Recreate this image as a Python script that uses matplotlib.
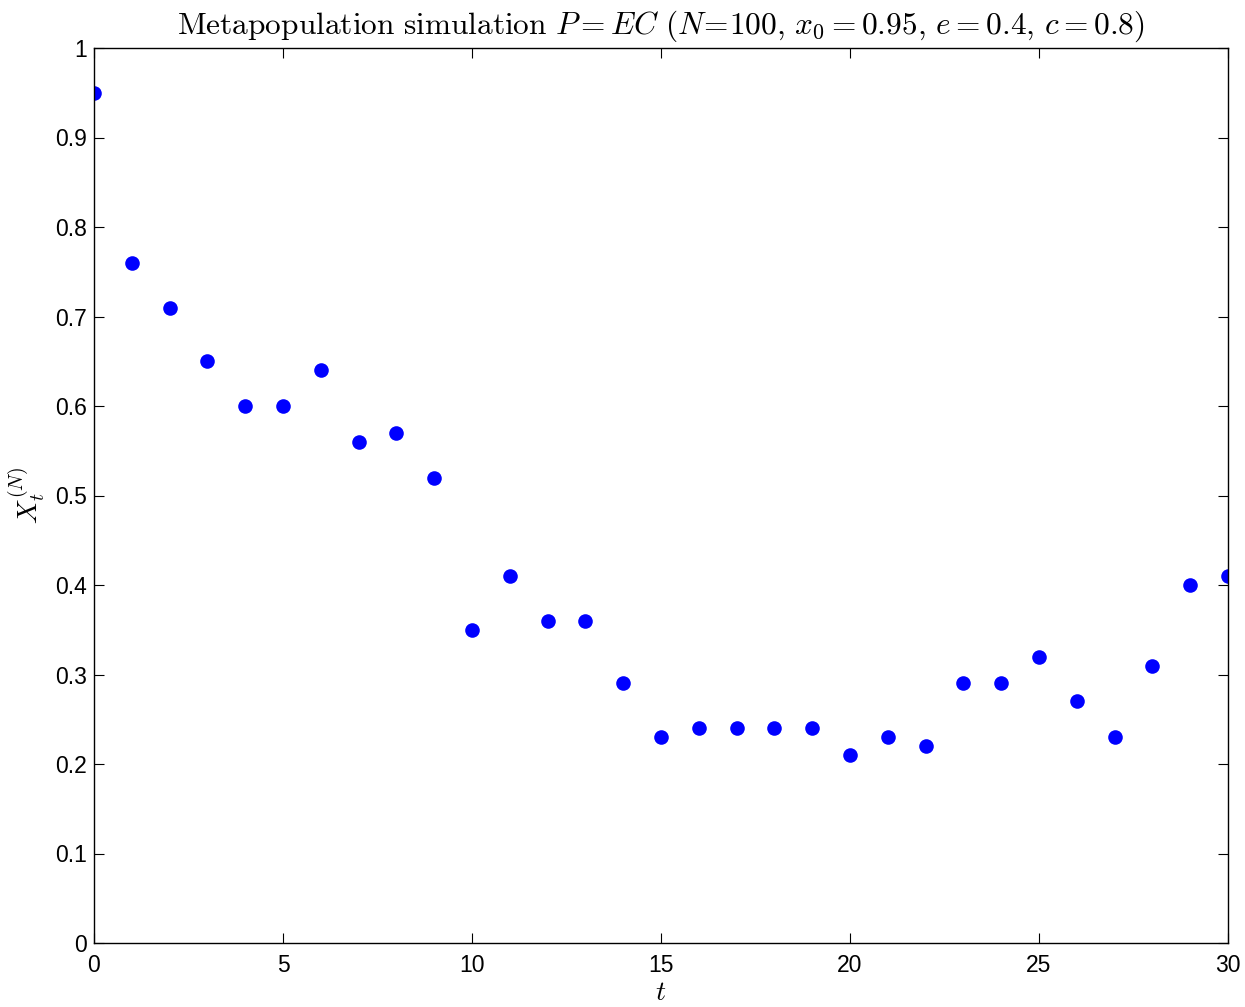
import matplotlib
matplotlib.use("Agg")
import matplotlib.pyplot as plt

t = list(range(31))
x = [0.95, 0.76, 0.71, 0.65, 0.60, 0.60, 0.64, 0.56, 0.57, 0.52,
     0.35, 0.41, 0.36, 0.36, 0.29, 0.23, 0.24, 0.24, 0.24, 0.24,
     0.21, 0.23, 0.22, 0.29, 0.29, 0.32, 0.27, 0.23, 0.31, 0.40, 0.41]
xticks = [0, 5, 10, 15, 20, 25, 30]
yticks = [0, 0.1, 0.2, 0.3, 0.4, 0.5, 0.6, 0.7, 0.8, 0.9, 1]
yticklabels = ["0", "0.1", "0.2", "0.3", "0.4", "0.5", "0.6", "0.7", "0.8", "0.9", "1"]

plt.rcParams['mathtext.fontset'] = 'cm'
plt.rcParams['font.family'] = ['Liberation Sans', 'DejaVu Sans']

fig = plt.figure(figsize=(12.45, 10.07), dpi=100)
ax = fig.add_axes([94/1245, 64/1007, (1228-94)/1245, (943-48)/1007])
ax.plot(t, x, 'o', color=(0, 0, 1), markersize=10.5, markeredgewidth=0)
ax.set_xlim(0, 30)
ax.set_ylim(0, 1)
ax.set_xticks(xticks)
ax.set_xticklabels([str(v) for v in xticks])
ax.set_yticks(yticks)
ax.set_yticklabels(yticklabels)
ax.tick_params(direction='in', top=True, right=True, labelsize=16.5, length=7, width=0.8, pad=5)
ax.tick_params(axis='x', pad=8)
for s in ax.spines.values():
    s.set_linewidth(1.0)
ax.set_title(r'$\mathrm{Metapopulation\ simulation}\ P = EC\ (N\!=\!100,\, x_0 = 0.95,\, e = 0.4,\, c = 0.8)$',
             fontsize=22.6, pad=10)
ax.set_xlabel(r'$t$', fontsize=20, labelpad=2)
ax.set_ylabel(r'$X_t^{(N)}$', fontsize=20, labelpad=6)
fig.savefig('out.png', dpi=100)
